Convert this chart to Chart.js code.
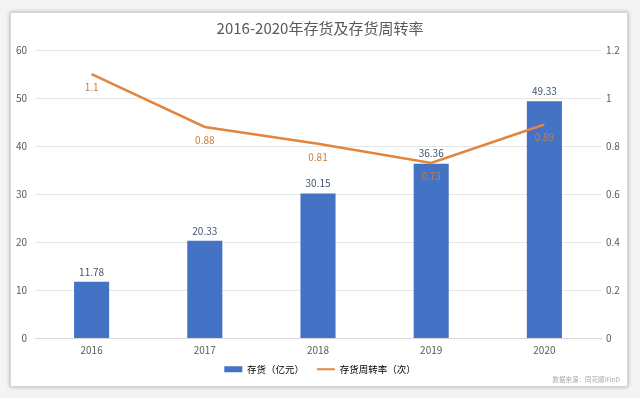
<!DOCTYPE html>
<html>
<head>
<meta charset="utf-8">
<script src="https://cdn.jsdelivr.net/npm/chart.js@4"></script>
<style>
  html, body { margin: 0; padding: 0; background: #f4f4f4; overflow: hidden; }
  #card {
    position: absolute; left: 10px; top: 12px; width: 616px; height: 373px;
    background: #fff; border: 1px solid #d4d4d4;
    box-shadow: 0 0 4px rgba(0,0,0,0.3);
  }
  #wrap { position: absolute; left: 0; top: 0; width: 640px; height: 398px; }
  canvas { display: block; }
</style>
</head>
<body>
<div id="card"></div>
<div id="wrap"><canvas id="chart" width="640" height="398"></canvas></div>
<script>
const years = ['2016', '2017', '2018', '2019', '2020'];
const inventory = [11.78, 20.33, 30.15, 36.36, 49.33];
const turnover = [1.1, 0.88, 0.81, 0.73, 0.89];
const source = '数据来源：同花顺iFinD';

const FONT = '"Noto Sans CJK SC", "Noto Sans", sans-serif';

// value labels: above the bars, under the line points; plus the source note
const valueLabels = {
    id: 'valueLabels',
    afterDatasetsDraw(chart) {
        const ctx = chart.ctx;
        ctx.save();
        ctx.font = '10px ' + FONT;
        ctx.textAlign = 'center';
        ctx.textBaseline = 'middle';
        chart.getDatasetMeta(0).data.forEach((bar, i) => {
            ctx.fillStyle = '#44546A';
            ctx.fillText(inventory[i], bar.x, bar.y - 10);
        });
        chart.getDatasetMeta(1).data.forEach((pt, i) => {
            ctx.fillStyle = '#C8803F';
            ctx.fillText(turnover[i], pt.x, pt.y + 13);
        });
        ctx.font = '6.5px ' + FONT;
        ctx.fillStyle = '#a9a9a9';
        ctx.textAlign = 'right';
        ctx.fillText(source, 620, 380);
        ctx.restore();
    }
};

const ctx = document.getElementById('chart');
const chart = new Chart(ctx, {
    type: 'bar',
    data: {
        labels: years,
        datasets: [{
            label: '存货（亿元）',
            data: inventory,
            backgroundColor: '#4472C4',
            barPercentage: 0.62,
            categoryPercentage: 0.5,
            yAxisID: 'y',
            order: 2
        }, {
            type: 'line',
            label: '存货周转率（次）',
            data: turnover,
            borderColor: '#E2853F',
            backgroundColor: '#E2853F',
            borderWidth: 2.5,
            pointRadius: 0,
            tension: 0,
            yAxisID: 'y1',
            order: 1
        }]
    },
    plugins: [valueLabels],
    options: {
        responsive: false,
        animation: false,
        layout: { padding: { left: 10, right: 10, top: 12, bottom: 14 } },
        plugins: {
            title: {
                display: true,
                text: '2016-2020年存货及存货周转率',
                color: '#595959',
                font: { family: FONT, size: 15, weight: 'normal' },
                padding: { top: 7, bottom: 13 }
            },
            legend: {
                position: 'bottom',
                labels: {
                    usePointStyle: true,
                    pointStyleWidth: 18,
                    boxHeight: 6,
                    color: '#595959',
                    font: { family: FONT, size: 9.5 },
                    padding: 6,
                    generateLabels(chart) {
                        return [{
                            text: '存货（亿元）\u3000 ', fillStyle: '#4472C4', strokeStyle: '#4472C4',
                            lineWidth: 0, pointStyle: 'rect', datasetIndex: 0
                        }, {
                            text: '存货周转率（次）', fillStyle: '#E2853F', strokeStyle: '#E2853F',
                            lineWidth: 2, pointStyle: 'line', datasetIndex: 1
                        }];
                    }
                }
            },
            tooltip: { enabled: false }
        },
        scales: {
            x: {
                grid: { display: false, drawTicks: false },
                border: { color: '#d9d9d9' },
                ticks: { color: '#595959', font: { family: FONT, size: 10 }, padding: 6 },
                afterFit(scale) { scale.height = 20; }
            },
            y: {
                position: 'left',
                min: 0, max: 60,
                ticks: { stepSize: 10, color: '#595959', font: { family: FONT, size: 10 }, padding: 8 },
                grid: { color: '#e6e6e6', drawTicks: false },
                border: { display: false },
                afterFit(scale) { scale.width = 25; }
            },
            y1: {
                position: 'right',
                min: 0, max: 1.2,
                ticks: {
                    stepSize: 0.2, color: '#595959', font: { family: FONT, size: 10 }, padding: 5,
                    callback: v => String(+v.toFixed(1))
                },
                grid: { display: false, drawTicks: false },
                border: { display: false },
                afterFit(scale) { scale.width = 29; }
            }
        }
    }
});
</script>
</body>
</html>
